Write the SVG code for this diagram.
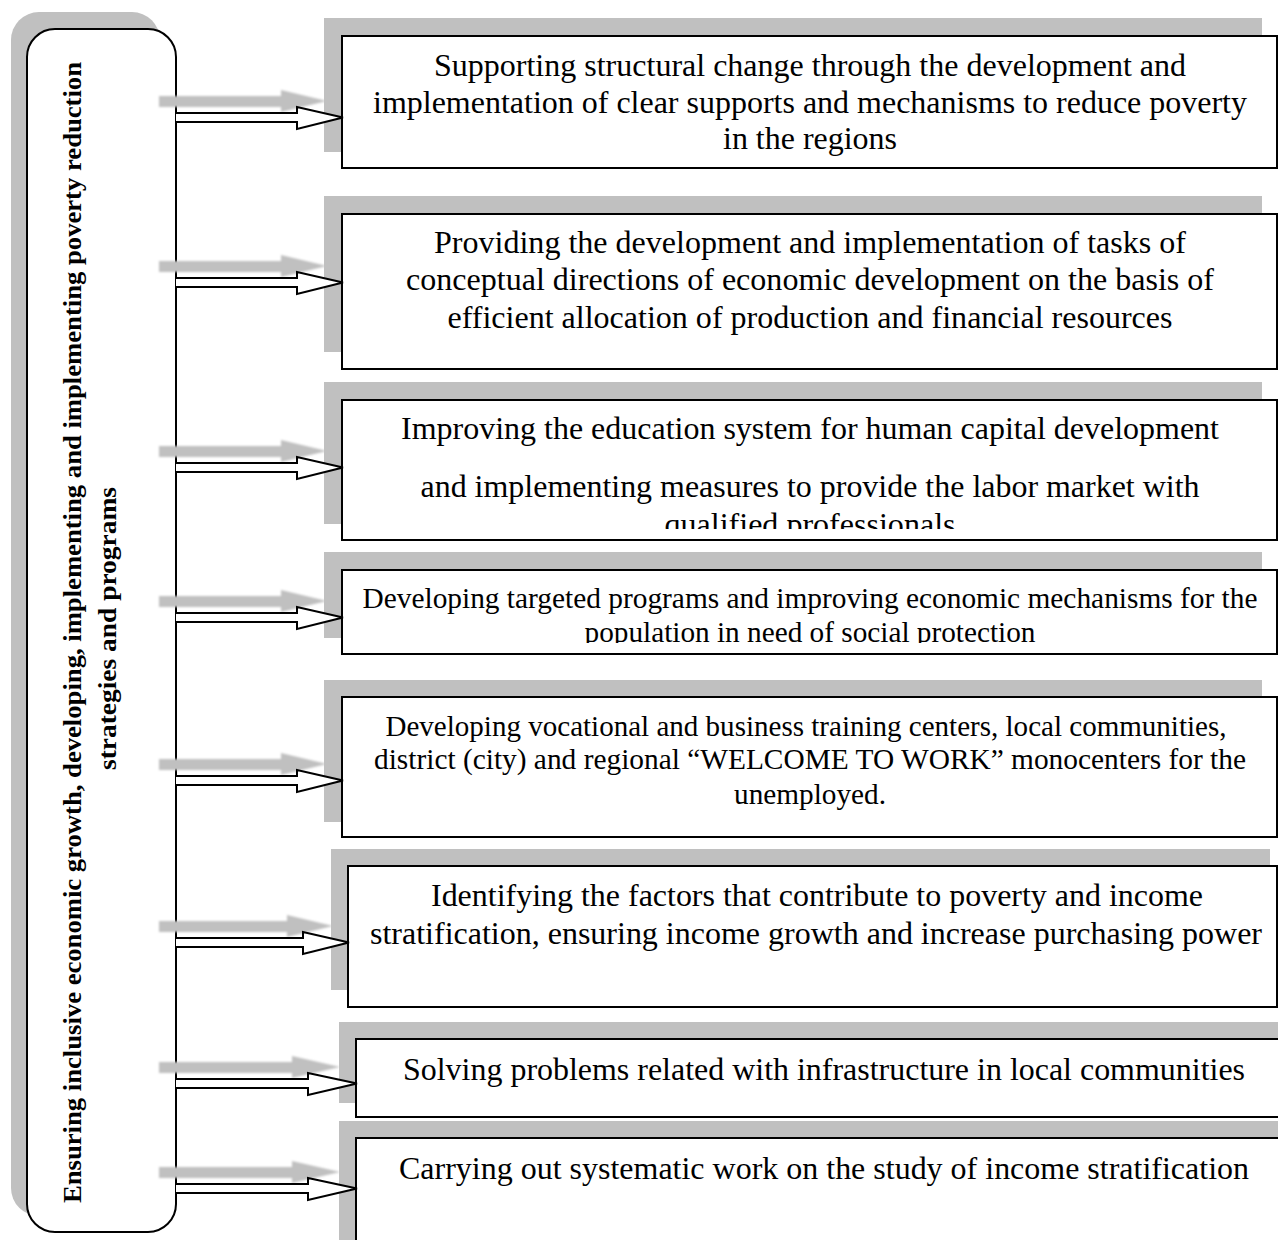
<svg xmlns="http://www.w3.org/2000/svg" width="1278" height="1240" viewBox="0 0 1278 1240">
<style>
.sh{fill:#c0c0c0;stroke:none}
.box{fill:#fff;stroke:#000;stroke-width:2}
.t{font-family:"Liberation Serif","Times New Roman",serif;font-size:32px;fill:#000;text-anchor:middle}
.ts{font-size:29px}
.lt{font-family:"Liberation Serif","Times New Roman",serif;font-size:26px;font-weight:bold;fill:#000;text-anchor:middle}
.ar{fill:#fff;stroke:#000;stroke-width:2;stroke-linejoin:miter}
.as{fill:#c0c0c0;stroke:none;filter:url(#blur)}
</style>
<defs>
<filter id="blur" x="-10%" y="-50%" width="120%" height="200%"><feGaussianBlur stdDeviation="1.2"/></filter>
<clipPath id="c3"><rect x="342" y="400" width="935" height="129"/></clipPath>
<clipPath id="c4"><rect x="342" y="570" width="935" height="73"/></clipPath>
</defs>
<rect width="1278" height="1240" fill="#fff"/>

<g id="main">
<rect class="sh" x="11" y="12" width="149" height="1204" rx="28"/>
<rect class="box" x="27" y="29" width="149" height="1203" rx="28"/>
<text class="lt" transform="translate(81,632.5) rotate(-90)" textLength="1141" lengthAdjust="spacingAndGlyphs">Ensuring inclusive economic growth, developing, implementing and implementing poverty reduction</text>
<text class="lt" transform="translate(116,628.5) rotate(-90)" textLength="283" lengthAdjust="spacingAndGlyphs">strategies and programs</text>
</g>

<g id="connector-shadows">
<path class="as" d="M159,96 H281 V90 L327,101 L281,112 V107 H159 Z"/>
<path class="as" d="M159,261 H281 V255 L327,266 L281,277 V272 H159 Z"/>
<path class="as" d="M159,446 H281 V440 L327,451 L281,462 V457 H159 Z"/>
<path class="as" d="M159,596 H281 V590 L327,601 L281,612 V607 H159 Z"/>
<path class="as" d="M159,759 H281 V753 L327,764 L281,775 V770 H159 Z"/>
<path class="as" d="M159,921 H287 V915 L333,926 L287,937 V932 H159 Z"/>
<path class="as" d="M159,1062 H292 V1056 L340,1067 L292,1078 V1073 H159 Z"/>
<path class="as" d="M159,1167 H292 V1161 L340,1172 L292,1183 V1178 H159 Z"/>
</g>

<g id="n1">
<rect class="sh" x="324" y="18" width="938" height="134"/>
<rect class="box" x="342" y="36" width="935" height="132"/>
<text class="t" x="810" y="76" textLength="752" lengthAdjust="spacingAndGlyphs">Supporting structural change through the development and</text>
<text class="t" x="810" y="113" textLength="874" lengthAdjust="spacingAndGlyphs">implementation of clear supports and mechanisms to reduce poverty</text>
<text class="t" x="810" y="149" textLength="174" lengthAdjust="spacingAndGlyphs">in the regions</text>
</g>

<g id="n2">
<rect class="sh" x="324" y="196" width="938" height="156"/>
<rect class="box" x="342" y="214" width="935" height="155"/>
<text class="t" x="810" y="253" textLength="752" lengthAdjust="spacingAndGlyphs">Providing the development and implementation of tasks of</text>
<text class="t" x="810" y="290" textLength="808" lengthAdjust="spacingAndGlyphs">conceptual directions of economic development on the basis of</text>
<text class="t" x="810" y="328" textLength="725" lengthAdjust="spacingAndGlyphs">efficient allocation of production and financial resources</text>
</g>

<g id="n3">
<rect class="sh" x="324" y="382" width="938" height="142"/>
<rect class="box" x="342" y="400" width="935" height="140"/>
<g clip-path="url(#c3)">
<text class="t" x="810" y="439" textLength="818" lengthAdjust="spacingAndGlyphs">Improving the education system for human capital development</text>
<text class="t" x="810" y="497" textLength="779" lengthAdjust="spacingAndGlyphs">and implementing measures to provide the labor market with</text>
<text class="t" x="810" y="535" textLength="291" lengthAdjust="spacingAndGlyphs">qualified professionals</text>
</g>
</g>

<g id="n4">
<rect class="sh" x="324" y="552" width="938" height="86"/>
<rect class="box" x="342" y="570" width="935" height="84"/>
<g clip-path="url(#c4)">
<text class="t ts" x="810" y="608" textLength="895" lengthAdjust="spacingAndGlyphs">Developing targeted programs and improving economic mechanisms for the</text>
<text class="t ts" x="810" y="642" textLength="451" lengthAdjust="spacingAndGlyphs">population in need of social protection</text>
</g>
</g>

<g id="n5">
<rect class="sh" x="324" y="680" width="938" height="142"/>
<rect class="box" x="342" y="697" width="935" height="140"/>
<text class="t ts" x="806" y="736" textLength="841" lengthAdjust="spacingAndGlyphs">Developing vocational and business training centers, local communities,</text>
<text class="t ts" x="810" y="769" textLength="872" lengthAdjust="spacingAndGlyphs">district (city) and regional “WELCOME TO WORK” monocenters for the</text>
<text class="t ts" x="810" y="804" textLength="152" lengthAdjust="spacingAndGlyphs">unemployed.</text>
</g>

<g id="n6">
<rect class="sh" x="331" y="849" width="939" height="141"/>
<rect class="box" x="348" y="866" width="929" height="141"/>
<text class="t" x="817" y="906" textLength="772" lengthAdjust="spacingAndGlyphs">Identifying the factors that contribute to poverty and income</text>
<text class="t" x="816" y="944" textLength="892" lengthAdjust="spacingAndGlyphs">stratification, ensuring income growth and increase purchasing power</text>
</g>

<g id="n7">
<rect class="sh" x="339" y="1022" width="939" height="81"/>
<rect class="box" x="356" y="1039" width="923" height="78"/>
<text class="t" x="824" y="1080" textLength="842" lengthAdjust="spacingAndGlyphs">Solving problems related with infrastructure in local communities</text>
</g>

<g id="n8">
<rect class="sh" x="339" y="1121" width="939" height="119"/>
<rect class="box" x="356" y="1138" width="923" height="104"/>
<text class="t" x="824" y="1179" textLength="850" lengthAdjust="spacingAndGlyphs">Carrying out systematic work on the study of income stratification</text>
</g>

<g id="connectors">
<path class="ar" d="M176,113 H297 V107 L343,117.5 L297,129 V122 H176"/>
<path class="ar" d="M176,278 H297 V272 L343,282.5 L297,294 V287 H176"/>
<path class="ar" d="M176,463 H297 V457 L343,467.5 L297,479 V472 H176"/>
<path class="ar" d="M176,613 H297 V607 L343,617.5 L297,629 V622 H176"/>
<path class="ar" d="M176,776 H297 V770 L343,780.5 L297,792 V785 H176"/>
<path class="ar" d="M176,938 H303 V932 L349,942.5 L303,954 V947 H176"/>
<path class="ar" d="M176,1079 H308 V1073 L357,1083.5 L308,1095 V1088 H176"/>
<path class="ar" d="M176,1184 H308 V1178 L357,1188.5 L308,1200 V1193 H176"/>
</g>
</svg>
